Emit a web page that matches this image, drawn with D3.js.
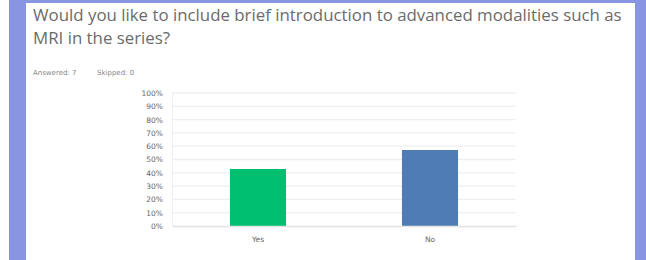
<!DOCTYPE html>
<html>
<head>
<meta charset="utf-8">
<title>Survey question chart</title>
<script src="https://cdn.jsdelivr.net/npm/d3@7"></script>
<style>
  body { margin: 0; background: #fff; }
  text { font-family: "DejaVu Sans", sans-serif; }
  .title { font-family: "Open Sans", "Noto Sans", sans-serif; }
</style>
</head>
<body>
<script>
  // data (7 answers: 3 yes, 4 no)
  var answers = ["Yes", "No"];
  var percents = [42.86, 57.14];
  var barColors = ["#00bf6f", "#507cb6"];
  var yTicks = [0, 10, 20, 30, 40, 50, 60, 70, 80, 90, 100];
  var titleLines = ["Would you like to include brief introduction to advanced modalities such as",
                    "MRI in the series?"];

  var W = 646, H = 260;
  var margin = {top: 93, right: 130, bottom: 34, left: 172},
      width = W - margin.left - margin.right,
      height = H - margin.top - margin.bottom;

  var svg = d3.select("body").append("svg")
    .attr("width", W)
    .attr("height", H);

  // page background: blue frame round the white card
  svg.append("rect").attr("x", 9).attr("y", 0).attr("width", W - 9).attr("height", H).attr("fill", "#8795e3");
  svg.append("rect").attr("x", 26).attr("y", 3).attr("width", 609).attr("height", H - 3).attr("fill", "#fff");

  // title
  svg.append("g").selectAll("text")
    .data(titleLines)
    .enter().append("text")
    .attr("class", "title")
    .attr("x", 33)
    .attr("y", function(d, i) { return 21 + i * 23; })
    .style("font-size", "16.85px")
    .attr("fill", "#6b6b6b")
    .text(function(d) { return d; });

  svg.append("text").attr("x", 33).attr("y", 75)
    .style("font-size", "7px").attr("fill", "#888").text("Answered: 7");
  svg.append("text").attr("x", 97).attr("y", 75)
    .style("font-size", "7px").attr("fill", "#888").text("Skipped: 0");

  var g = svg.append("g")
    .attr("transform", "translate(" + margin.left + "," + margin.top + ")");

  var x = d3.scaleBand()
    .domain(answers)
    .range([0, width])
    .paddingInner(0.674)
    .paddingOuter(0.337);

  var y = d3.scaleLinear()
    .domain([0, 100])
    .range([height, 0]);

  // gridlines
  g.append("g")
    .selectAll("line")
    .data(yTicks.slice(1))
    .enter().append("line")
    .attr("x1", 0).attr("x2", width)
    .attr("y1", function(d) { return y(d); })
    .attr("y2", function(d) { return y(d); })
    .attr("stroke", "#efefef")
    .attr("stroke-width", 1.3);

  // faint left edge
  g.append("line")
    .attr("x1", 0.5).attr("x2", 0.5).attr("y1", 0).attr("y2", height)
    .attr("stroke", "#f0f0f0");

  // bars
  g.selectAll(".bar")
    .data(answers)
    .enter().append("rect")
    .attr("class", "bar")
    .attr("x", function(d) { return x(d); })
    .attr("width", x.bandwidth())
    .attr("y", function(d, i) { return y(percents[i]); })
    .attr("height", function(d, i) { return height - y(percents[i]); })
    .attr("fill", function(d, i) { return barColors[i]; });

  // y axis
  var yAxis = g.append("g")
    .call(d3.axisLeft(y).tickValues(yTicks).tickFormat(function(d) { return d + "%"; }).tickSize(0).tickPadding(9));
  yAxis.select(".domain").remove();
  yAxis.selectAll("text").style("font-size", "7.5px").style("font-family", "DejaVu Sans").attr("fill", "#666");

  // x axis
  var xAxis = g.append("g")
    .attr("transform", "translate(0," + height + ")")
    .call(d3.axisBottom(x).tickSize(0).tickPadding(11));
  xAxis.select(".domain").attr("stroke", "#e2e2e2").attr("stroke-width", 1.3);
  xAxis.selectAll("text").style("font-size", "7.5px").style("font-family", "DejaVu Sans").attr("fill", "#666");
</script>
</body>
</html>
